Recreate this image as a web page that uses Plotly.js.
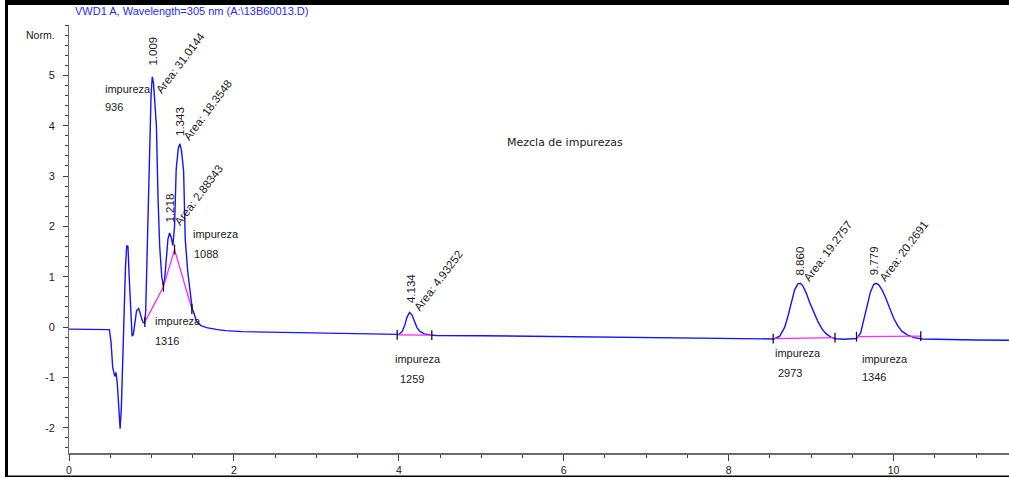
<!DOCTYPE html>
<html>
<head>
<meta charset="utf-8">
<script src="https://cdn.plot.ly/plotly-3.0.1.min.js"></script>
<style>
  html, body { margin: 0; padding: 0; background: #ffffff; }
  #chart { width: 1009px; height: 478px; }
</style>
</head>
<body>
<div id="chart"></div>
<script>
// ---------------- DATA ----------------
const chartTitle = "VWD1 A, Wavelength=305 nm (A:\\13B60013.D)";
const yUnit = "Norm.";
const noteText = "Mezcla de impurezas";

// chromatogram signal: retention time (min) and response (Norm.)
const retentionTime = [
  0.00, 0.20, 0.40, 0.49, 0.51, 0.53, 0.555, 0.57, 0.585, 0.60, 0.62, 0.635, 0.65, 0.665,
  0.685, 0.70, 0.715, 0.73, 0.75, 0.765, 0.78, 0.80, 0.82, 0.845, 0.87, 0.895, 0.915, 0.93,
  0.945, 0.96, 0.98, 0.995, 1.01, 1.025, 1.04, 1.06, 1.08, 1.10, 1.125, 1.145, 1.16, 1.18,
  1.20, 1.22, 1.24, 1.26, 1.28, 1.30, 1.325, 1.345, 1.365, 1.39, 1.41, 1.44, 1.47, 1.495,
  1.51, 1.53, 1.55, 1.60, 1.67, 1.80, 1.90, 2.10, 2.40, 2.70, 3.00, 3.50, 3.95,
  4.00, 4.04, 4.07, 4.10, 4.13, 4.16, 4.19, 4.22, 4.26, 4.31, 4.38, 4.45,
  5.00, 5.50, 6.00, 6.50, 7.00, 7.50, 8.00, 8.50,
  8.55, 8.62, 8.68, 8.72, 8.76, 8.80, 8.84, 8.87, 8.90, 8.94, 8.98, 9.03, 9.08, 9.13,
  9.18, 9.24, 9.30, 9.40, 9.50,
  9.55, 9.60, 9.64, 9.68, 9.72, 9.76, 9.79, 9.82, 9.86, 9.90, 9.95, 10.00, 10.05, 10.10,
  10.17, 10.25, 10.35, 10.60, 11.00, 11.40
];
const response = [
  -0.04, -0.04, -0.04, -0.05, -0.30, -0.80, -0.98, -0.90, -1.10, -1.60, -2.02, -1.60, -0.60, 0.30,
  1.20, 1.62, 1.60, 1.00, 0.20, -0.18, -0.15, 0.10, 0.33, 0.37, 0.25, 0.10, 0.08, 0.30,
  1.30, 2.55, 3.60, 4.60, 4.97, 4.85, 4.50, 4.00, 2.55, 1.60, 1.00, 0.82, 0.95, 1.30,
  1.75, 1.87, 1.78, 1.62, 2.00, 3.13, 3.55, 3.64, 3.50, 3.10, 1.74, 1.10, 0.62, 0.36,
  0.30, 0.20, 0.10, 0.03, -0.01, -0.05, -0.07, -0.09, -0.10, -0.115, -0.125, -0.14, -0.15,
  -0.145, -0.09, 0.03, 0.20, 0.29, 0.24, 0.10, -0.01, -0.09, -0.135, -0.155, -0.165,
  -0.17, -0.18, -0.19, -0.20, -0.21, -0.22, -0.23, -0.24,
  -0.235, -0.18, 0.00, 0.22, 0.50, 0.74, 0.86, 0.87, 0.82, 0.68, 0.50, 0.30, 0.12, -0.03,
  -0.13, -0.20, -0.23, -0.24, -0.24,
  -0.225, -0.12, 0.15, 0.45, 0.70, 0.85, 0.87, 0.84, 0.74, 0.60, 0.38, 0.18, 0.03, -0.08,
  -0.16, -0.21, -0.235, -0.245, -0.255, -0.26
];

// integration baselines (magenta) and their start/stop marks
const baseGroupRT = [0.92, 1.145, 1.28, 1.49];
const baseGroupY  = [0.10, 0.80, 1.54, 0.36];
const base4RT = [3.98, 4.40];
const base4Y  = [-0.155, -0.16];
const base8RT = [8.54, 9.29];
const base8Y  = [-0.23, -0.21];
const base9RT = [9.55, 10.33];
const base9Y  = [-0.19, -0.18];

// peak table
const peakRT    = [1.009, 1.218, 1.343, 4.134, 8.860, 9.779];
const peakApex  = [4.97, 1.87, 3.64, 0.29, 0.87, 0.87];
const peakArea  = ["31.0144", "2.88343", "18.3548", "4.93252", "19.2757", "20.2691"];
const compoundName = ["impureza", "impureza", "impureza", "impureza", "impureza", "impureza"];
const compoundCode = ["936", "1316", "1088", "1259", "2973", "1346"];

// axis ticks
const xTickVals = [0, 2, 4, 6, 8, 10];
const xTickText = ["0", "2", "4", "6", "8", "10"];
const yTickVals = [-2, -1, 0, 1, 2, 3, 4, 5];
const yTickText = ["-2", "-1", "0", "1", "2", "3", "4", "5"];

// ---------------- LAYOUT HELPERS ----------------
const FONT = "Liberation Sans, Arial, sans-serif";
const txtColor = "#1a1a1a";

// pixel offsets of the retention time / area labels relative to each apex
const rtShift   = [[1, 25.5], [0.6, 24.5], [0.8, 22.4], [0.7, 24], [0, 22.4], [-1, 22.4]];
const areaShift = [[28, 14], [29.6, 37.5], [28.3, 33.4], [28, 32], [28.5, 32], [28.7, 32]];
// name label anchor positions (data units: x, y of first line; x, y of second line)
const namePos = [
  [0.412, 4.735, 0.412, 4.377],
  [1.013, 0.119, 1.013, -0.278],
  [1.480, 1.841, 1.492, 1.444],
  [3.930, -0.642, 3.990, -1.039],
  [8.535, -0.508, 8.575, -0.906],
  [9.594, -0.642, 9.594, -0.999]
];

const traces = [];
traces.push({
  x: retentionTime, y: response, type: "scatter", mode: "lines",
  line: { color: "rgb(20,20,255)", width: 1.4 }, hoverinfo: "skip", showlegend: false
});
[[baseGroupRT, baseGroupY], [base4RT, base4Y], [base8RT, base8Y], [base9RT, base9Y]].forEach(function (b) {
  traces.push({
    x: b[0], y: b[1], type: "scatter", mode: "lines+markers",
    line: { color: "rgb(255,40,255)", width: 1.3 },
    marker: { symbol: "line-ns-open", size: 7, color: "#000", line: { color: "#000", width: 1.2 } },
    hoverinfo: "skip", showlegend: false
  });
});

const ann = [];
for (let i = 0; i < peakRT.length; i++) {
  ann.push({
    x: peakRT[i], y: peakApex[i], xref: "x", yref: "y",
    text: peakRT[i].toFixed(3), showarrow: false, textangle: -90,
    xanchor: "center", yanchor: "middle",
    xshift: rtShift[i][0], yshift: rtShift[i][1],
    font: { family: FONT, size: 11.5, color: txtColor }
  });
  ann.push({
    x: peakRT[i], y: peakApex[i], xref: "x", yref: "y",
    text: "Area: " + peakArea[i], showarrow: false, textangle: -53,
    xanchor: "center", yanchor: "middle",
    xshift: areaShift[i][0], yshift: areaShift[i][1],
    font: { family: FONT, size: 11.5, color: txtColor }
  });
  ann.push({
    x: namePos[i][0], y: namePos[i][1], xref: "x", yref: "y",
    text: compoundName[i], showarrow: false, xanchor: "left", yanchor: "middle",
    font: { family: FONT, size: 11, color: txtColor }
  });
  ann.push({
    x: namePos[i][2], y: namePos[i][3], xref: "x", yref: "y",
    text: compoundCode[i], showarrow: false, xanchor: "left", yanchor: "middle",
    font: { family: FONT, size: 11, color: txtColor }
  });
}
ann.push({
  x: 6.016, y: 3.668, xref: "x", yref: "y", text: noteText, showarrow: false,
  xanchor: "center", yanchor: "middle",
  font: { family: "DejaVu Sans, sans-serif", size: 11, color: txtColor }
});
// signal title (blue, above plot) and unit label
ann.push({
  x: (73 - 69) / 940, y: (453 - 11) / 428, xref: "paper", yref: "paper",
  text: chartTitle, showarrow: false, xanchor: "left", yanchor: "middle",
  font: { family: FONT, size: 11, color: "rgb(40,40,255)" }
});
ann.push({
  x: (57 - 69) / 940, y: (453 - 35) / 428, xref: "paper", yref: "paper",
  text: yUnit, showarrow: false, xanchor: "right", yanchor: "middle",
  font: { family: FONT, size: 10.5, color: txtColor }
});

// black frame of the report
const px = function (p) { return (p - 69) / 940; };
const py = function (p) { return (453 - p) / 428; };
const shapes = [
  { type: "rect", xref: "paper", yref: "paper", x0: px(5), x1: px(1009), y0: py(0), y1: py(5), fillcolor: "#000", line: { width: 0 } },
  { type: "rect", xref: "paper", yref: "paper", x0: px(5), x1: px(8), y0: py(0), y1: py(477), fillcolor: "#000", line: { width: 0 } },
  { type: "rect", xref: "paper", yref: "paper", x0: px(5), x1: px(1009), y0: py(475.5), y1: py(477), fillcolor: "#000", line: { width: 0 } }
];

const layout = {
  width: 1009, height: 478,
  margin: { l: 69, r: 0, t: 25, b: 25, pad: 0 },
  paper_bgcolor: "#ffffff", plot_bgcolor: "#ffffff",
  showlegend: false,
  xaxis: {
    range: [0, 11.4], showgrid: false, zeroline: false,
    showline: true, linecolor: "#6a6a6a", linewidth: 2,
    ticks: "outside", ticklen: 6, tickwidth: 1, tickcolor: "#404040",
    tickvals: xTickVals, ticktext: xTickText,
    tickfont: { family: FONT, size: 10.5, color: txtColor },
    minor: { dtick: 0.5, tick0: 0, ticks: "outside", ticklen: 3, tickwidth: 1, tickcolor: "#404040", showgrid: false }
  },
  yaxis: {
    range: [-2.5, 6.0], showgrid: false, zeroline: false,
    showline: true, linecolor: "#6a6a6a", linewidth: 1,
    ticks: "outside", ticklen: 5, tickwidth: 1, tickcolor: "#404040",
    tickvals: yTickVals, ticktext: yTickText,
    tickfont: { family: FONT, size: 11, color: txtColor },
    ticklabelstandoff: 6,
    minor: { dtick: 0.2, tick0: 0, ticks: "outside", ticklen: 3, tickwidth: 1, tickcolor: "#404040", showgrid: false }
  },
  annotations: ann,
  shapes: shapes
};

Plotly.newPlot("chart", traces, layout, { displayModeBar: false, staticPlot: true });
</script>
</body>
</html>
